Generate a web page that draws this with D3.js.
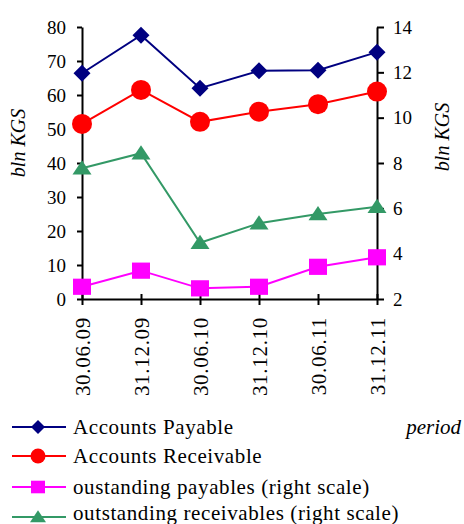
<!DOCTYPE html>
<html>
<head>
<meta charset="utf-8">
<script src="https://cdn.jsdelivr.net/npm/d3@7/dist/d3.min.js"></script>
<style>
  body { margin: 0; background: #fff; }
  svg { display: block; }
  text { font-family: "Liberation Serif", "Times New Roman", serif; fill: #000; }
</style>
</head>
<body>
<svg id="chart" width="464" height="524"></svg>
<script>
const categories = ["30.06.09", "31.12.09", "30.06.10", "31.12.10", "30.06.11", "31.12.11"];
const accountsPayable = [66.4, 77.6, 62.0, 67.1, 67.3, 72.6];
const accountsReceivable = [51.5, 61.5, 52.1, 55.1, 57.3, 61.0];
const outstandingPayables = [2.54, 3.25, 2.47, 2.54, 3.42, 3.84];
const outstandingReceivables = [7.77, 8.43, 4.48, 5.34, 5.75, 6.07];
const leftTicks = [0, 10, 20, 30, 40, 50, 60, 70, 80];
const rightTicks = [2, 4, 6, 8, 10, 12, 14];
const seriesNames = ["Accounts Payable", "Accounts Receivable", "oustanding payables (right scale)", "outstanding receivables (right scale)"];

const series = [
  { name: seriesNames[0], values: accountsPayable, axis: "left", color: "#000080", marker: "diamond" },
  { name: seriesNames[1], values: accountsReceivable, axis: "left", color: "#ff0000", marker: "circle" },
  { name: seriesNames[2], values: outstandingPayables, axis: "right", color: "#ff00ff", marker: "square" },
  { name: seriesNames[3], values: outstandingReceivables, axis: "right", color: "#339966", marker: "triangle" }
];

const svg = d3.select("#chart");
const plot = { left: 82, right: 377, top: 27, bottom: 299 };

const x = d3.scalePoint().domain(categories).range([plot.left, plot.right]).padding(0);
const yL = d3.scaleLinear().domain([0, 80]).range([plot.bottom, plot.top]);
const yR = d3.scaleLinear().domain([2, 14]).range([plot.bottom, plot.top]);

// axes
const gL = svg.append("g").attr("transform", `translate(${plot.left},0)`)
  .call(d3.axisLeft(yL).tickValues(leftTicks).tickSize(5).tickPadding(11).tickSizeOuter(0));
const gR = svg.append("g").attr("transform", `translate(${plot.right},0)`)
  .call(d3.axisRight(yR).tickValues(rightTicks).tickSize(7).tickPadding(9).tickSizeOuter(0));
const gB = svg.append("g").attr("transform", `translate(0,${plot.bottom})`)
  .call(d3.axisBottom(x).tickSize(6).tickSizeOuter(0));

[gL, gR, gB].forEach(g => {
  g.select(".domain").attr("stroke", "#000").attr("stroke-width", 2);
  g.selectAll(".tick line").attr("stroke", "#000").attr("stroke-width", 2);
  g.selectAll("text").style("font-family", '"Liberation Serif", serif').style("font-size", "19px").attr("fill", "#000");
});
// bottom ticks cross the axis
gB.selectAll(".tick line").attr("y1", -5).attr("y2", 6);
gB.selectAll(".tick text")
  .attr("transform", "rotate(-90)")
  .attr("text-anchor", "end")
  .attr("x", -18)
  .attr("y", 0)
  .attr("dy", "0.35em")
  .style("font-size", "21px")
  .style("letter-spacing", "0.7px");

// axis titles
svg.append("text").attr("transform", "translate(25,143) rotate(-90)")
  .attr("text-anchor", "middle").style("font-style", "italic").style("font-size", "20px").text("bln KGS");
svg.append("text").attr("transform", "translate(449,137) rotate(-90)")
  .attr("text-anchor", "middle").style("font-style", "italic").style("font-size", "20px").text("bln KGS");

function markerPath(type, s) {
  if (type === "diamond") return `M0,${-s}L${s},0L0,${s}L${-s},0Z`;
  if (type === "square") return `M${-s},${-s * 0.9}H${s}V${s * 0.9}H${-s}Z`;
  if (type === "triangle") return `M0,${-s * 0.85}L${s},${s * 0.65}L${-s},${s * 0.65}Z`;
  return null;
}
function drawMarker(g, type, color, cx, cy, size) {
  if (type === "circle") {
    g.append("circle").attr("cx", cx).attr("cy", cy).attr("r", size).attr("fill", color);
  } else {
    g.append("path").attr("d", markerPath(type, size)).attr("transform", `translate(${cx},${cy})`).attr("fill", color);
  }
}
const markerSize = { diamond: 8.5, circle: 10, square: 9, triangle: 9.5 };
const legendSize = { diamond: 7, circle: 7.5, square: 7, triangle: 8 };

series.forEach(s => {
  const y = s.axis === "left" ? yL : yR;
  const line = d3.line().x((d, i) => x(categories[i])).y(d => y(d));
  svg.append("path").datum(s.values).attr("d", line)
    .attr("fill", "none").attr("stroke", s.color).attr("stroke-width", 2);
  const g = svg.append("g");
  s.values.forEach((v, i) => drawMarker(g, s.marker, s.color, x(categories[i]), y(v), markerSize[s.marker]));
});

// legend
const legendRows = [427, 456, 487, 517];
series.forEach((s, i) => {
  const g = svg.append("g").attr("transform", `translate(0,${legendRows[i]})`);
  g.append("line").attr("x1", 12).attr("x2", 66).attr("y1", 0).attr("y2", 0)
    .attr("stroke", s.color).attr("stroke-width", 2);
  drawMarker(g, s.marker, s.color, 38, 0, legendSize[s.marker]);
  g.append("text").attr("x", 73).attr("y", Math.min(7, 520 - legendRows[i]))
    .style("font-size", "21px").style("letter-spacing", "0.6px").text(s.name);
});
svg.append("text").attr("x", 461).attr("y", 434).attr("text-anchor", "end")
  .style("font-style", "italic").style("font-size", "21px").text("period");
</script>
</body>
</html>
